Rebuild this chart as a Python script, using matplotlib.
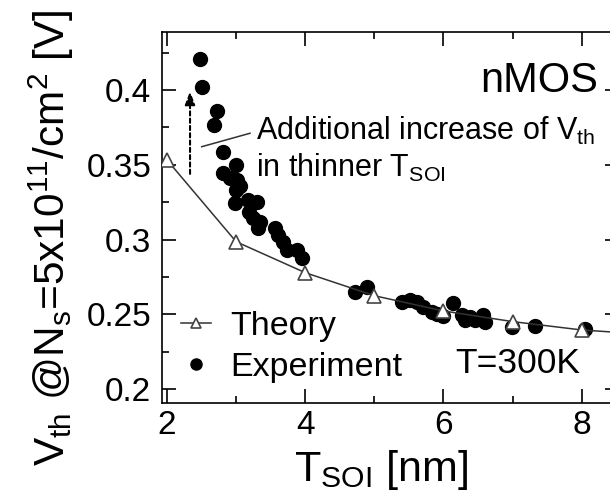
import matplotlib
matplotlib.use("Agg")
import matplotlib.pyplot as plt
from matplotlib.ticker import MultipleLocator

plt.rcParams['font.family'] = ['Liberation Sans', 'DejaVu Sans']
plt.rcParams['mathtext.fontset'] = 'custom'
plt.rcParams['mathtext.rm'] = 'Liberation Sans'
plt.rcParams['mathtext.it'] = 'Liberation Sans'
plt.rcParams['mathtext.default'] = 'regular'

# Theory (open triangles with line)
theory_x = [2, 3, 4, 5, 6, 7, 8, 9]
theory_y = [0.3532, 0.2986, 0.2779, 0.2625, 0.2523, 0.2452, 0.2396, 0.2365]

# Experiment (filled circles)
exp_x = [2.478, 2.502, 2.719, 2.685, 2.815, 2.999, 2.806, 2.912, 3.018, 3.000,
         2.984, 3.177, 3.298, 3.191, 3.249, 3.346, 3.322, 3.563, 3.611, 3.684,
         3.732, 3.876, 3.949, 4.721, 4.889, 5.396, 5.517, 5.613, 5.710, 5.830,
         5.999, 6.144, 6.264, 6.313, 6.457, 6.578, 6.602, 6.988, 7.326, 8.049,
         3.060, 5.900, 6.390]
exp_y = [0.4205, 0.4022, 0.3862, 0.3766, 0.3588, 0.3499, 0.3443, 0.3410, 0.3399, 0.3332,
         0.3243, 0.3265, 0.3254, 0.3187, 0.3143, 0.3120, 0.3076, 0.3076, 0.3031, 0.2986,
         0.2931, 0.2931, 0.2875, 0.2652, 0.2686, 0.2585, 0.2597, 0.2585, 0.2552, 0.2519,
         0.2490, 0.2575, 0.2496, 0.2463, 0.2463, 0.2496, 0.2452, 0.2418, 0.2423, 0.2401,
         0.3360, 0.2500, 0.2480]

xticks = [2, 4, 6, 8]
yticks = [0.2, 0.25, 0.3, 0.35, 0.4]
ytick_labels = ['0.2', '0.25', '0.3', '0.35', '0.4']

fig = plt.figure(figsize=(6.1, 4.95), dpi=100)
ax = fig.add_axes([0.2661, 0.1853, 0.7487, 0.7495])

ax.plot(exp_x, exp_y, 'o', color='black', ms=10, zorder=3, label='Experiment')
ax.plot(theory_x, theory_y, '-', color='#333333', lw=1.1, marker='^', ms=9.5,
        mfc='white', mec='#444444', mew=1.2, zorder=4, label='Theory')

ax.set_xlim(1.932, 8.54)
ax.set_ylim(0.1906, 0.4386)
ax.set_xticks(xticks)
ax.set_yticks(yticks)
ax.set_yticklabels(ytick_labels)
ax.xaxis.set_minor_locator(MultipleLocator(1))
ax.yaxis.set_minor_locator(MultipleLocator(0.025))
ax.tick_params(which='both', direction='in', top=True, right=True, width=1.2)
ax.tick_params(which='major', length=10, labelsize=24)
ax.tick_params(which='minor', length=5)
ax.tick_params(axis='x', pad=5)
ax.tick_params(axis='y', pad=8)
for s in ax.spines.values():
    s.set_linewidth(1.2)

ax.set_xlabel(r'T$_{\mathrm{SOI}}$ [nm]', fontsize=31)
ax.set_ylabel(r'V$_{\mathrm{th}}$ @N$_{\mathrm{s}}$=5x10$^{11}$/cm$^{2}$ [V]', fontsize=30.5)

# texts
ax.text(8.237, 0.3989, 'nMOS', fontsize=30, ha='right', va='baseline')
ax.text(6.168, 0.2107, 'T=300K', fontsize=25.5, ha='left', va='baseline')
ax.text(3.288, 0.3666, r'Additional increase of V$_{\mathrm{th}}$', fontsize=22,
        ha='left', va='baseline')
ax.text(3.288, 0.3421, r'in thinner T$_{\mathrm{SOI}}$', fontsize=22,
        ha='left', va='baseline')
ax.plot([2.502, 3.201], [0.3621, 0.3711], '-', color='#333333', lw=1.1)
ax.annotate('', xy=(2.333, 0.4011), xytext=(2.333, 0.3421),
            arrowprops=dict(arrowstyle='-|>,head_length=0.8,head_width=0.3',
                            color='black', lw=1.5, ls=(0, (2, 1.5))))

h, l = ax.get_legend_handles_labels()
leg = ax.legend([h[1], h[0]], [l[1], l[0]], loc='lower left', frameon=False,
                fontsize=24.5, handlelength=0.9, handletextpad=0.55,
                labelspacing=0.3, borderpad=0, borderaxespad=0,
                bbox_to_anchor=(0.04, 0.055), markerscale=0.8, numpoints=1)

ax.xaxis.set_label_coords(0.48, -0.12)
ax.yaxis.set_label_coords(-0.19, 0.445)

fig.savefig('out.png', dpi=100)
